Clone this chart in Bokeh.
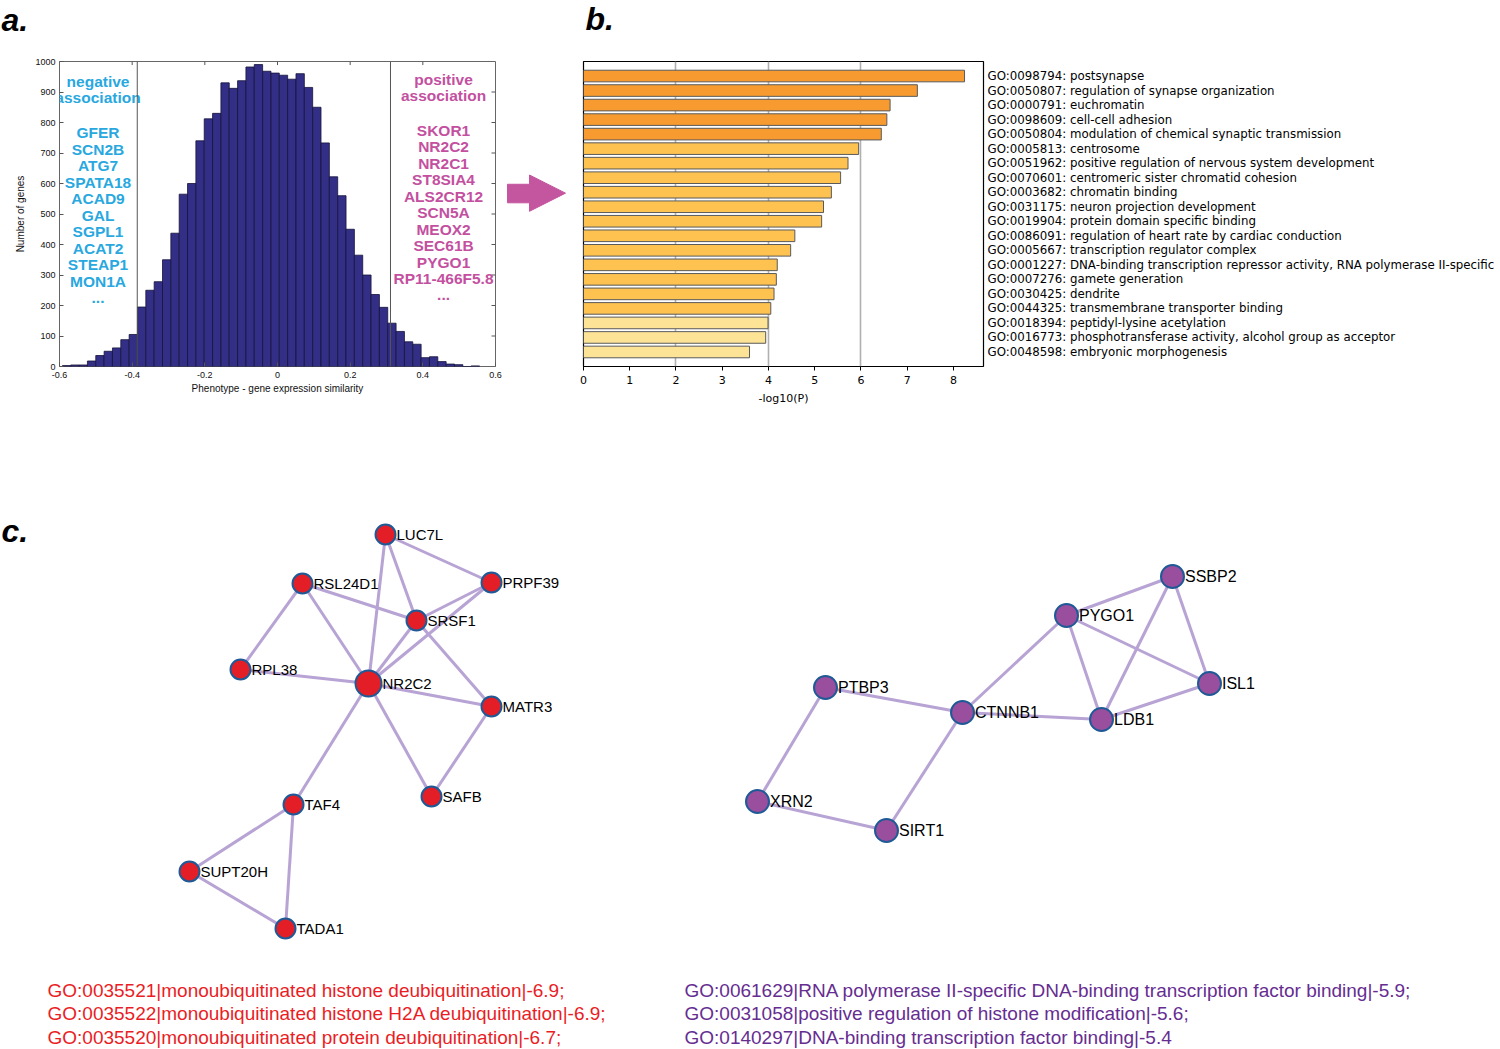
import numpy as np
from bokeh.plotting import figure
from bokeh.layouts import row, column
from bokeh.models import Range1d, FixedTicker, Span
from bokeh.core.properties import value
from bokeh.embed import file_html
from bokeh.resources import INLINE

# ---------------- panel a: histogram ----------------
hist_start = -0.592
hist_bin_width = 0.02296
hist_counts = [3, 5, 5, 18, 36, 50, 61, 88, 105, 195, 250, 278, 350, 437, 565, 600,
               740, 812, 830, 930, 912, 937, 982, 990, 968, 962, 955, 942, 960, 915,
               850, 733, 622, 560, 450, 365, 300, 236, 194, 142, 115, 81, 73, 29, 32,
               16, 8, 6, 0, 2]
threshold_neg = -0.386
threshold_pos = 0.311
neg_header = ["negative", "association"]
pos_header = ["positive", "association"]
neg_genes = ["GFER", "SCN2B", "ATG7", "SPATA18", "ACAD9", "GAL", "SGPL1", "ACAT2",
             "STEAP1", "MON1A", "..."]
pos_genes = ["SKOR1", "NR2C2", "NR2C1", "ST8SIA4", "ALS2CR12", "SCN5A", "MEOX2",
             "SEC61B", "PYGO1", "RP11-466F5.8", "..."]
hist_xticks = [-0.6, -0.4, -0.2, 0, 0.2, 0.4, 0.6]
hist_xtick_labels = ["-0.6", "-0.4", "-0.2", "0", "0.2", "0.4", "0.6"]
hist_yticks = [0, 100, 200, 300, 400, 500, 600, 700, 800, 900, 1000]

# ---------------- panel b: GO enrichment bars ----------------
go_terms = [
    "GO:0098794: postsynapse",
    "GO:0050807: regulation of synapse organization",
    "GO:0000791: euchromatin",
    "GO:0098609: cell-cell adhesion",
    "GO:0050804: modulation of chemical synaptic transmission",
    "GO:0005813: centrosome",
    "GO:0051962: positive regulation of nervous system development",
    "GO:0070601: centromeric sister chromatid cohesion",
    "GO:0003682: chromatin binding",
    "GO:0031175: neuron projection development",
    "GO:0019904: protein domain specific binding",
    "GO:0086091: regulation of heart rate by cardiac conduction",
    "GO:0005667: transcription regulator complex",
    "GO:0001227: DNA-binding transcription repressor activity, RNA polymerase II-specific",
    "GO:0007276: gamete generation",
    "GO:0030425: dendrite",
    "GO:0044325: transmembrane transporter binding",
    "GO:0018394: peptidyl-lysine acetylation",
    "GO:0016773: phosphotransferase activity, alcohol group as acceptor",
    "GO:0048598: embryonic morphogenesis",
]
go_values = [8.24, 7.22, 6.63, 6.56, 6.44, 5.95, 5.72, 5.56, 5.36, 5.19, 5.15, 4.57,
             4.48, 4.19, 4.17, 4.12, 4.05, 3.99, 3.94, 3.59]
go_group = [0, 0, 0, 0, 0, 1, 1, 1, 1, 1, 1, 1, 1, 1, 1, 1, 1, 2, 2, 2]
go_palette = ["#F79B30", "#FDC250", "#FDE396"]
go_xticks = [0, 1, 2, 3, 4, 5, 6, 7, 8]
go_grid = [2, 4, 6]

# ---------------- panel c: networks ----------------
left_nodes = ["LUC7L", "RSL24D1", "PRPF39", "SRSF1", "RPL38", "NR2C2", "MATR3",
              "SAFB", "TAF4", "SUPT20H", "TADA1"]
left_x = [385, 302, 491, 416, 240, 368, 491, 431, 293, 189, 285]
left_y = [534, 583, 582, 620, 669, 683, 706, 796, 804, 871, 928]
left_hub = "NR2C2"
left_edges = [("LUC7L", "NR2C2"), ("LUC7L", "SRSF1"), ("LUC7L", "PRPF39"),
              ("RSL24D1", "SRSF1"), ("RSL24D1", "NR2C2"), ("RSL24D1", "RPL38"),
              ("PRPF39", "SRSF1"), ("PRPF39", "NR2C2"), ("SRSF1", "NR2C2"),
              ("SRSF1", "MATR3"), ("RPL38", "NR2C2"), ("NR2C2", "MATR3"),
              ("NR2C2", "SAFB"), ("NR2C2", "TAF4"), ("MATR3", "SAFB"),
              ("TAF4", "SUPT20H"), ("TAF4", "TADA1"), ("SUPT20H", "TADA1")]

right_nodes = ["SSBP2", "PYGO1", "ISL1", "PTBP3", "CTNNB1", "LDB1", "XRN2", "SIRT1"]
right_x = [1172, 1066, 1209, 825, 962, 1101, 757, 886]
right_y = [576, 615, 683, 687, 712, 719, 801, 830]
right_edges = [("SSBP2", "PYGO1"), ("SSBP2", "ISL1"), ("SSBP2", "LDB1"),
               ("PYGO1", "ISL1"), ("PYGO1", "LDB1"), ("PYGO1", "CTNNB1"),
               ("ISL1", "LDB1"), ("CTNNB1", "LDB1"), ("CTNNB1", "PTBP3"),
               ("CTNNB1", "SIRT1"), ("PTBP3", "XRN2"), ("XRN2", "SIRT1")]

left_go_text = ["GO:0035521|monoubiquitinated histone deubiquitination|-6.9;",
                "GO:0035522|monoubiquitinated histone H2A deubiquitination|-6.9;",
                "GO:0035520|monoubiquitinated protein deubiquitination|-6.7;"]
right_go_text = ["GO:0061629|RNA polymerase II-specific DNA-binding transcription factor binding|-5.9;",
                 "GO:0031058|positive regulation of histone modification|-5.6;",
                 "GO:0140297|DNA-binding transcription factor binding|-5.4"]

panel_letters = ["a.", "b."]

# ---------------- styles ----------------
ARIAL = "Liberation Sans"
DEJAVU = "DejaVu Sans"
NEG_COLOR = "#29A8E0"
POS_COLOR = "#C3509F"
HIST_FILL = "#332F87"
EDGE_COLOR = "#B7A3D4"
NODE_LINE = "#1F5A96"
LEFT_FILL = "#E41E26"
RIGHT_FILL = "#9A4E9E"
RED_TEXT = "#EA1D25"
PURPLE_TEXT = "#662D91"
TICK_COLOR = "#555555"

PAGE_W = 1500
STRIP_H = 45
ROW1_H = 395
ROW2_H = 1049 - STRIP_H - ROW1_H

# ================= top strip with panel letters =================
ps = figure(width=PAGE_W, height=STRIP_H, x_range=Range1d(0, PAGE_W), y_range=Range1d(STRIP_H, 0),
            output_backend="svg", toolbar_location=None, min_border=0,
            min_border_left=0, min_border_right=0, min_border_top=0, min_border_bottom=0)
ps.axis.visible = False
ps.grid.visible = False
ps.outline_line_color = None
ps.text(x=[1, 585], y=[19, 18], text=panel_letters, text_font=value(ARIAL),
        text_font_size="32px", text_font_style="bold italic", text_color="black",
        text_align="left", text_baseline="middle")

# ================= panel a =================
A_FRAME_W, A_FRAME_H = 436, 343
pa = figure(width=505, height=ROW1_H, x_range=Range1d(-0.6, 0.6), y_range=Range1d(0, 1000),
            output_backend="svg", toolbar_location=None,
            min_border_left=59, min_border_right=10, min_border_top=8, min_border_bottom=44)
pa.grid.visible = False
pa.outline_line_color = "#666666"
pa.outline_line_width = 1

edges = [hist_start + i * hist_bin_width for i in range(len(hist_counts) + 1)]
pa.quad(left=edges[:-1], right=edges[1:], bottom=0, top=hist_counts,
        fill_color=HIST_FILL, line_color="#15133A", line_width=0.8)

for loc in (threshold_neg, threshold_pos):
    pa.add_layout(Span(location=loc, dimension="height", line_color="#555555", line_width=1))

# mirrored inward ticks on the top and right edges (4 px long)
tick_dy = 4 * 1000 / A_FRAME_H
tick_dx = 4 * 1.2 / A_FRAME_W
top_t = hist_xticks[1:-1]
right_t = hist_yticks[1:-1]
pa.segment(x0=top_t, y0=[1000] * len(top_t), x1=top_t, y1=[1000 - tick_dy] * len(top_t),
           line_color=TICK_COLOR, line_width=1)
pa.segment(x0=[0.6] * len(right_t), y0=right_t, x1=[0.6 - tick_dx] * len(right_t), y1=right_t,
           line_color=TICK_COLOR, line_width=1)

xa = pa.below[0]
xa.ticker = FixedTicker(ticks=hist_xticks)
xa.major_label_overrides = {t: l for t, l in zip(hist_xticks, hist_xtick_labels)}
ya = pa.left[0]
ya.ticker = FixedTicker(ticks=hist_yticks)
for ax in (xa, ya):
    ax.axis_line_color = None
    ax.major_tick_in = 4
    ax.major_tick_out = 0
    ax.minor_tick_in = 0
    ax.minor_tick_out = 0
    ax.major_tick_line_color = TICK_COLOR
    ax.major_label_text_font = ARIAL
    ax.major_label_text_font_size = "9px"
    ax.major_label_text_color = "#111111"
    ax.axis_label_text_font = ARIAL
    ax.axis_label_text_font_size = "10px"
    ax.axis_label_text_font_style = "normal"
    ax.axis_label_text_color = "#111111"
xa.axis_label = "Phenotype - gene expression similarity"
xa.major_label_standoff = 5
xa.axis_label_standoff = 2
ya.axis_label = "Number of genes"
ya.major_label_standoff = 4
ya.axis_label_standoff = 6

# association texts
neg_cx, pos_cx = -0.494, 0.457
txt_kw = dict(text_font=value(ARIAL), text_font_style="bold", text_font_size="15.5px",
              text_align="center", text_baseline="middle")
pa.text(x=[neg_cx] * 2, y=[933 - 50 * i for i in range(2)], text=neg_header,
        text_color=NEG_COLOR, **txt_kw)
pa.text(x=[neg_cx] * len(neg_genes), y=[767 - 54.2 * i for i in range(len(neg_genes))],
        text=neg_genes, text_color=NEG_COLOR, **txt_kw)
pa.text(x=[pos_cx] * 2, y=[942 - 53 * i for i in range(2)], text=pos_header,
        text_color=POS_COLOR, **txt_kw)
pa.text(x=[pos_cx] * len(pos_genes), y=[775 - 54.2 * i for i in range(len(pos_genes))],
        text=pos_genes, text_color=POS_COLOR, **txt_kw)

# ================= arrow =================
parrow = figure(width=65, height=ROW1_H, x_range=Range1d(505, 570),
                y_range=Range1d(STRIP_H + ROW1_H, STRIP_H),
                output_backend="svg", toolbar_location=None, min_border=0,
                min_border_left=0, min_border_right=0, min_border_top=0, min_border_bottom=0)
parrow.axis.visible = False
parrow.grid.visible = False
parrow.outline_line_color = None
arrow_shape_x = [507, 529, 529, 565, 529, 529, 507]
arrow_shape_y = [204, 204, 192, 215.5, 239, 228, 228]
parrow.patch(arrow_shape_x, arrow_shape_y, fill_color="#C4559F", line_color="#C4559F", line_width=1)

# ================= panel b =================
n_go = len(go_terms)
go_pos = list(range(1, n_go + 1))
go_colors = [go_palette[g] for g in go_group]
pb = figure(width=930, height=ROW1_H, x_range=Range1d(0, 8.65), y_range=Range1d(n_go + 1, 0),
            y_axis_location="right", output_backend="svg", toolbar_location=None,
            min_border_left=13, min_border_right=517, min_border_top=16, min_border_bottom=74)
pb.outline_line_color = "black"
pb.outline_line_width = 1.2
pb.ygrid.visible = False
pb.xgrid.ticker = FixedTicker(ticks=go_grid)
pb.xgrid.grid_line_color = "#B0B0B0"
pb.xgrid.grid_line_width = 1.6
pb.hbar(y=go_pos, left=0, right=go_values, height=0.8, fill_color=go_colors,
        line_color="#5A5A5A", line_width=1)

bx = pb.below[0]
bx.ticker = FixedTicker(ticks=go_xticks)
bx.axis_line_color = None
bx.major_tick_in = 0
bx.major_tick_out = 4
bx.minor_tick_in = 0
bx.minor_tick_out = 0
bx.major_tick_line_color = "black"
bx.major_label_text_font = DEJAVU
bx.major_label_text_font_size = "11px"
bx.major_label_text_color = "black"
bx.major_label_standoff = 5
bx.axis_label = "-log10(P)"
bx.axis_label_text_font = DEJAVU
bx.axis_label_text_font_size = "11px"
bx.axis_label_text_font_style = "normal"
bx.axis_label_text_color = "black"
bx.axis_label_standoff = 5

by = pb.right[0]
by.ticker = FixedTicker(ticks=go_pos)
by.major_label_overrides = {p: t for p, t in zip(go_pos, go_terms)}
by.axis_line_color = None
by.major_tick_in = 0
by.major_tick_out = 0
by.minor_tick_in = 0
by.minor_tick_out = 0
by.major_label_text_font = DEJAVU
by.major_label_text_font_size = "11.8px"
by.major_label_text_color = "black"
by.major_label_standoff = 4

# ================= panel c =================
top_c = STRIP_H + ROW1_H
pc = figure(width=PAGE_W, height=ROW2_H, x_range=Range1d(0, PAGE_W), y_range=Range1d(1049, top_c),
            output_backend="svg", toolbar_location=None, min_border=0,
            min_border_left=0, min_border_right=0, min_border_top=0, min_border_bottom=0)
pc.axis.visible = False
pc.grid.visible = False
pc.outline_line_color = None


def draw_network(p, names, xs, ys, edge_list, fill, base_size, hub=None, hub_size=None,
                 font_size="15px"):
    idx = {n: i for i, n in enumerate(names)}
    exs = [[xs[idx[a]], xs[idx[b]]] for a, b in edge_list]
    eys = [[ys[idx[a]], ys[idx[b]]] for a, b in edge_list]
    p.multi_line(xs=exs, ys=eys, line_color=EDGE_COLOR, line_width=3)
    sizes = [hub_size if (hub is not None and n == hub) else base_size for n in names]
    p.scatter(x=xs, y=ys, size=sizes, fill_color=fill, line_color=NODE_LINE, line_width=2)
    p.text(x=xs, y=ys, text=names, x_offset=[s / 2 + 1 for s in sizes],
           text_font=value(ARIAL), text_font_size=font_size, text_color="black",
           text_align="left", text_baseline="middle")


draw_network(pc, left_nodes, left_x, left_y, left_edges, LEFT_FILL, 20,
             hub=left_hub, hub_size=26, font_size="15px")
draw_network(pc, right_nodes, right_x, right_y, right_edges, RIGHT_FILL, 23, font_size="16px")

go_line_y = [990 + 23.3 * i for i in range(3)]
pc.text(x=[47] * len(left_go_text), y=go_line_y[:len(left_go_text)],
        text=left_go_text, text_font=value(ARIAL), text_font_size="19px",
        text_color=RED_TEXT, text_align="left", text_baseline="middle")
pc.text(x=[684] * len(right_go_text), y=go_line_y[:len(right_go_text)],
        text=right_go_text, text_font=value(ARIAL), text_font_size="19px",
        text_color=PURPLE_TEXT, text_align="left", text_baseline="middle")
pc.text(x=[1], y=[530], text=["c."], text_font=value(ARIAL), text_font_size="32px",
        text_font_style="bold italic", text_color="black", text_align="left",
        text_baseline="middle")

layout = column(ps, row(pa, parrow, pb), pc)
open("out.html", "w").write(file_html(layout, INLINE))
